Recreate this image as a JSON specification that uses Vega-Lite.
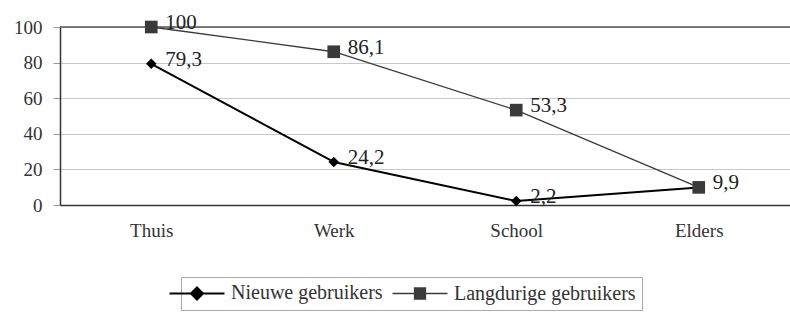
{
  "$schema": "https://vega.github.io/schema/vega-lite/v6.json",
  "autosize": "none",
  "width": 730,
  "height": 178,
  "padding": {"left": 60, "top": 27, "right": 0, "bottom": 107},
  "background": "white",
  "config": {
    "view": {"stroke": null},
    "font": "Liberation Serif",
    "locale": {"number": {"decimal": ",", "thousands": ".", "grouping": [3], "currency": ["€", ""]}}
  },
  "data": {
    "values": [
      {"plaats": "Thuis", "reeks": "Nieuwe gebruikers", "waarde": 79.3, "label": true},
      {"plaats": "Werk", "reeks": "Nieuwe gebruikers", "waarde": 24.2, "label": true},
      {"plaats": "School", "reeks": "Nieuwe gebruikers", "waarde": 2.2, "label": true},
      {"plaats": "Elders", "reeks": "Nieuwe gebruikers", "waarde": 9.9, "label": false},
      {"plaats": "Thuis", "reeks": "Langdurige gebruikers", "waarde": 100, "label": true},
      {"plaats": "Werk", "reeks": "Langdurige gebruikers", "waarde": 86.1, "label": true},
      {"plaats": "School", "reeks": "Langdurige gebruikers", "waarde": 53.3, "label": true},
      {"plaats": "Elders", "reeks": "Langdurige gebruikers", "waarde": 9.9, "label": true}
    ]
  },
  "encoding": {
    "x": {
      "field": "plaats", "type": "nominal", "sort": ["Thuis", "Werk", "School", "Elders"],
      "scale": {"type": "point", "padding": 0.5},
      "axis": {"title": null, "labelAngle": 0, "labelFont": "Liberation Serif", "labelFontSize": 19, "labelColor": "#333", "labelPadding": 16, "ticks": false, "domainColor": "#333", "domainWidth": 1.5, "grid": false}
    },
    "y": {
      "field": "waarde", "type": "quantitative",
      "scale": {"domain": [0, 100], "nice": false},
      "axis": {"title": null, "values": [0, 20, 40, 60, 80, 100], "labelFont": "Liberation Serif", "labelFontSize": 19, "labelColor": "#333", "tickSize": 7, "tickColor": "#999", "labelPadding": 11, "domainColor": "#333", "domainWidth": 1.5, "grid": true, "gridColor": "#c8c8c8", "gridWidth": 1}
    }
  },
  "layer": [
    {
      "data": {"values": [{"top": 100}]},
      "mark": {"type": "rule", "color": "#555", "strokeWidth": 1.5},
      "encoding": {"y": {"field": "top", "type": "quantitative"}, "x": null}
    },
    {
      "mark": {"type": "line", "strokeJoin": "round"},
      "encoding": {
        "stroke": {
          "field": "reeks", "type": "nominal",
          "scale": {"domain": ["Nieuwe gebruikers", "Langdurige gebruikers"], "range": ["#000000", "#3a3a3a"]},
          "legend": {
            "title": null, "orient": "none", "direction": "horizontal",
            "legendX": 121, "legendY": 250,
            "strokeColor": "#aaa", "padding": 6,
            "labelFont": "Liberation Serif", "labelFontSize": 20, "labelColor": "#333", "labelLimit": 400,
            "symbolSize": 3025, "symbolStrokeWidth": 1.5, "columnPadding": 6, "labelOffset": 24,
            "encode": {
              "symbols": {
                "update": {
                  "shape": {"signal": "datum.value === 'Nieuwe gebruikers' ? 'M-1,0H1M0,-0.22L0.22,0L0,0.22L-0.22,0Z' : 'M-1,0H1M-0.2,-0.2H0.2V0.2H-0.2Z'"},
                  "fill": {"signal": "datum.value === 'Nieuwe gebruikers' ? '#000000' : '#3a3a3a'"},
                  "stroke": {"signal": "datum.value === 'Nieuwe gebruikers' ? '#000000' : '#3a3a3a'"},
                  "strokeWidth": {"signal": "datum.value === 'Nieuwe gebruikers' ? 2 : 1.3"}
                }
              }
            }
          }
        },
        "strokeWidth": {
          "condition": {"test": "datum.reeks === 'Nieuwe gebruikers'", "value": 2},
          "value": 1.3
        }
      }
    },
    {
      "mark": {"type": "point", "filled": true, "opacity": 1},
      "encoding": {
        "shape": {"condition": {"test": "datum.reeks === 'Nieuwe gebruikers'", "value": "diamond"}, "value": "square"},
        "fill": {"condition": {"test": "datum.reeks === 'Nieuwe gebruikers'", "value": "#000000"}, "value": "#3a3a3a"},
        "size": {"condition": {"test": "datum.reeks === 'Nieuwe gebruikers'", "value": 110}, "value": 160}
      }
    },
    {
      "transform": [{"filter": "datum.label"}],
      "mark": {"type": "text", "align": "left", "baseline": "middle", "dx": 14, "dy": -4, "font": "Liberation Serif", "fontSize": 21, "color": "#222"},
      "encoding": {"text": {"field": "waarde", "type": "quantitative", "format": "~f"}}
    }
  ]
}
